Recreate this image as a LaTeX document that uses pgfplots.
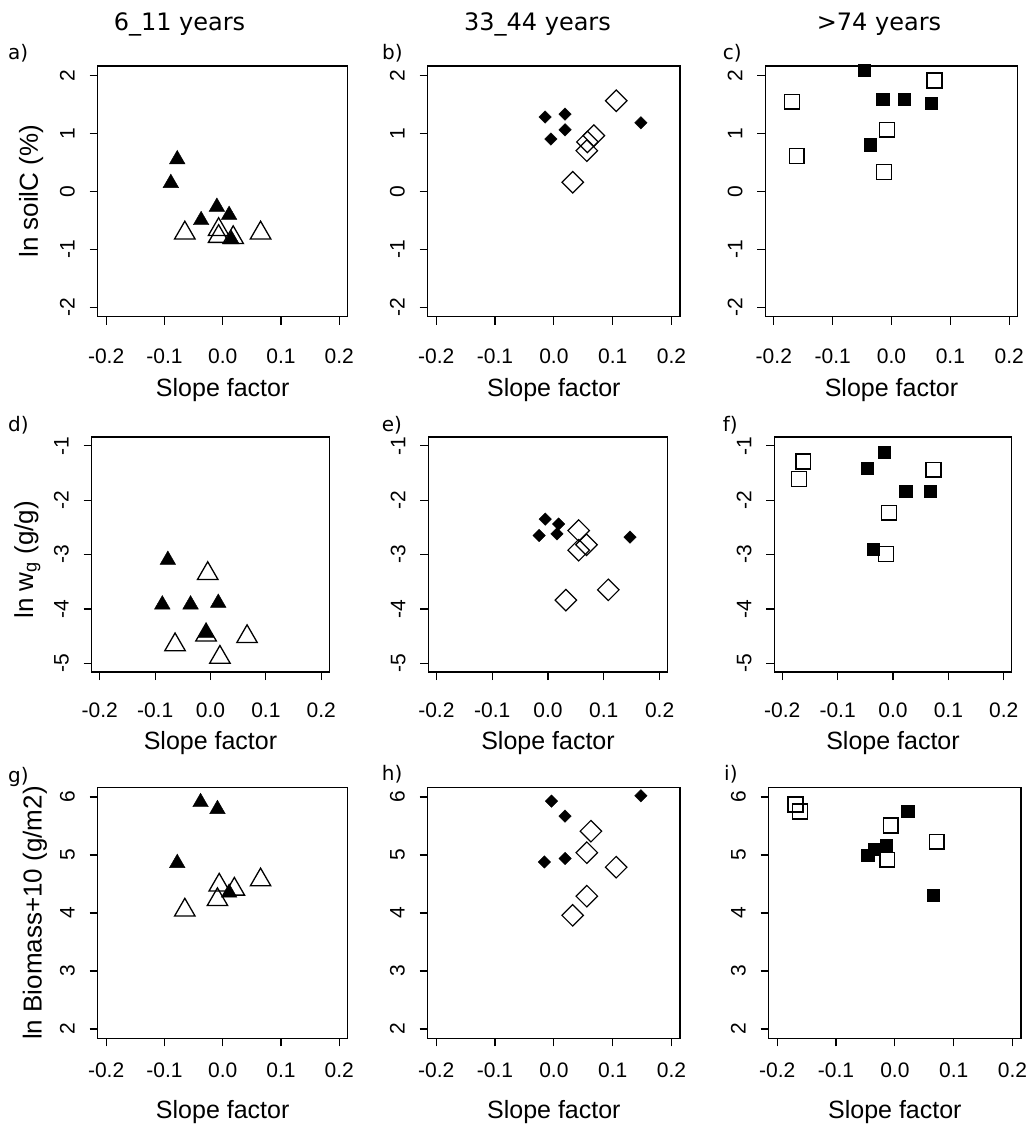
\documentclass[border=0pt]{standalone}
\usepackage{fontspec}
\setmainfont{Liberation Sans}
\newfontfamily\verd{DejaVu Sans}
\usepackage{pgfplots}
\pgfplotsset{compat=1.18}

\pgfplotsset{
  panel/.style={
    scale only axis, anchor=north west,
    xmin=-0.2145, xmax=0.2145,
    xtick={-0.2,-0.1,0,0.1,0.2},
    xticklabels={-0.2,-0.1,0.0,0.1,0.2},
    tick align=outside, xtick pos=bottom, ytick pos=left,
    major tick length=8pt,
    axis line style={line width=1.4pt},
    every tick/.append style={black, line width=1.2pt},
    tick label style={font=\fontsize{21}{21}\selectfont},
    yticklabel style={rotate=90, anchor=base, yshift=15pt},
    xlabel={Slope factor},
    ylabel style={font=\fontsize{26}{26}\selectfont, anchor=base},
  },
  soil/.style={panel, height=250.5pt, ymin=-2.16, ymax=2.16,
    ytick={-2,-1,0,1,2}, yticklabels={-2,-1,0,1,2},
    xticklabel style={anchor=base, yshift=-39pt},
    xlabel style={font=\fontsize{25}{25}\selectfont, at={(axis description cs:0.5,0)}, anchor=base, yshift=-80pt}},
  wg/.style={panel, height=235pt, ymin=-5.16, ymax=-0.84,
    ytick={-5,-4,-3,-2,-1}, yticklabels={-5,-4,-3,-2,-1},
    xticklabel style={anchor=base, yshift=-37pt},
    xlabel style={font=\fontsize{25}{25}\selectfont, at={(axis description cs:0.5,0)}, anchor=base, yshift=-77pt}},
  bio/.style={panel, height=250.6pt, ymin=1.84, ymax=6.16,
    ytick={2,3,4,5,6}, yticklabels={2,3,4,5,6},
    xticklabel style={anchor=base, yshift=-31pt},
    xlabel style={font=\fontsize{25}{25}\selectfont, at={(axis description cs:0.5,0)}, anchor=base, yshift=-80pt}},
  ftri/.style={only marks, mark=triangle*, mark size=9pt, black},
  otri/.style={only marks, mark=triangle, mark size=11.8pt, black,
    mark options={line width=1.3pt, fill=white}},
  fdia/.style={only marks, mark=square*, mark size=4.4pt, black,
    mark options={rotate=45}},
  odia/.style={only marks, mark=square, mark size=7.6pt, black,
    mark options={rotate=45, line width=1.2pt, fill=white}},
  fsq/.style={only marks, mark=square*, mark size=6.2pt, black},
  osq/.style={only marks, mark=square, mark size=7.4pt, black,
    mark options={line width=1.4pt, fill=white}},
}

\begin{document}
\begin{tikzpicture}

% column titles
\node[font=\verd\fontsize{24}{24}\selectfont] at (179.5pt,-24pt) {6\_11 years};
\node[font=\verd\fontsize{24}{24}\selectfont] at (537.5pt,-24pt) {33\_44 years};
\node[font=\verd\fontsize{24}{24}\selectfont] at (879pt,-24pt) {>74 years};

% panel letters
\begin{scope}[every node/.style={anchor=west, font=\verd\fontsize{20}{20}\selectfont, inner sep=0pt}]
\node at (8pt,-53.5pt) {a)};
\node at (382pt,-53.5pt) {b)};
\node at (722.7pt,-53.5pt) {c)};
\node at (8pt,-425pt) {d)};
\node at (381.7pt,-425pt) {e)};
\node at (722.7pt,-425pt) {f)};
\node at (8pt,-777pt) {g)};
\node at (381.7pt,-774pt) {h)};
\node at (724pt,-774pt) {i)};
\end{scope}

% a) soil C, 6-11 years
\begin{axis}[soil, at={(97.7pt,-66pt)}, width=250pt,
  ylabel={ln soilC (\%)}, ylabel style={at={(axis description cs:-0.239,0.5)}}]
\addplot[ftri] coordinates {(-0.078,0.55) (-0.089,0.14) (-0.010,-0.27) (-0.037,-0.50) (0.011,-0.41) (0.015,-0.83)};
\addplot[otri] coordinates {(-0.065,-0.72) (-0.007,-0.66) (-0.007,-0.78) (0.018,-0.80) (0.065,-0.72)};
\end{axis}

% b) soil C, 33-44 years
\begin{axis}[soil, at={(427.7pt,-66pt)}, width=252.3pt]
\addplot[fdia] coordinates {(-0.015,1.28) (-0.005,0.90) (0.019,1.33) (0.019,1.06) (0.148,1.18)};
\addplot[odia] coordinates {(0.106,1.56) (0.068,0.96) (0.057,0.85) (0.056,0.70) (0.032,0.155)};
\end{axis}

% c) soil C, >74 years
\begin{axis}[soil, at={(765.3pt,-66pt)}, width=252.4pt]
\addplot[fsq] coordinates {(-0.046,2.09) (-0.015,1.59) (0.022,1.59) (0.067,1.52) (-0.036,0.80)};
\addplot[osq] coordinates {(-0.169,1.545) (-0.161,0.61) (0.073,1.91) (-0.008,1.06) (-0.013,0.33)};
\end{axis}

% d) wg, 6-11 years
\begin{axis}[wg, at={(91.7pt,-437pt)}, width=237.6pt,
  ylabel={ln w\textsubscript{g} (g/g)}, ylabel style={at={(axis description cs:-0.247,0.477)}}]
\addplot[ftri] coordinates {(-0.077,-3.10) (-0.087,-3.92) (-0.036,-3.92) (0.014,-3.89) (-0.008,-4.44)};
\addplot[otri] coordinates {(-0.005,-3.35) (-0.064,-4.66) (0.017,-4.89) (0.066,-4.51) (-0.008,-4.48)};
\end{axis}

% e) wg, 33-44 years
\begin{axis}[wg, at={(428.3pt,-437pt)}, width=239.4pt]
\addplot[fdia] coordinates {(-0.005,-2.35) (-0.016,-2.65) (0.019,-2.44) (0.016,-2.62) (0.147,-2.68)};
\addplot[odia] coordinates {(0.055,-2.56) (0.069,-2.82) (0.055,-2.92) (0.108,-3.65) (0.032,-3.84)};
\end{axis}

% f) wg, >74 years
\begin{axis}[wg, at={(774.3pt,-437pt)}, width=237.4pt]
\addplot[fsq] coordinates {(-0.016,-1.12) (-0.047,-1.41) (0.023,-1.84) (0.067,-1.84) (-0.036,-2.90)};
\addplot[osq] coordinates {(-0.162,-1.29) (-0.170,-1.61) (0.073,-1.44) (-0.007,-2.23) (-0.013,-2.99)};
\end{axis}

% g) biomass, 6-11 years
\begin{axis}[bio, at={(97.7pt,-787.7pt)}, width=250pt,
  ylabel={ln Biomass+10 (g/m2)},
  ylabel style={at={(axis description cs:-0.224,0.5)}}]
\addplot[ftri] coordinates {(-0.038,5.91) (-0.009,5.79) (-0.078,4.86) (0.011,4.35)};
\addplot[otri] coordinates {(-0.065,4.05) (-0.006,4.48) (0.020,4.41) (-0.009,4.23) (0.065,4.57)};
\end{axis}

% h) biomass, 33-44 years
\begin{axis}[bio, at={(427.7pt,-787.7pt)}, width=252.3pt]
\addplot[fdia] coordinates {(-0.004,5.93) (0.019,5.67) (-0.016,4.88) (0.019,4.94) (0.148,6.02)};
\addplot[odia] coordinates {(0.063,5.41) (0.056,5.04) (0.106,4.79) (0.056,4.29) (0.032,3.96)};
\end{axis}

% i) biomass, >74 years
\begin{axis}[bio, at={(768.7pt,-787.7pt)}, width=252.3pt]
\addplot[fsq] coordinates {(0.022,5.76) (-0.046,5.00) (-0.035,5.10) (-0.015,5.17) (0.065,4.31)};
\addplot[osq] coordinates {(-0.169,5.87) (-0.161,5.75) (-0.007,5.51) (0.071,5.23) (-0.013,4.92)};
\end{axis}

\pgfresetboundingbox
\useasboundingbox (0pt,0pt) rectangle (1031pt,-1129pt);
\end{tikzpicture}
\end{document}
